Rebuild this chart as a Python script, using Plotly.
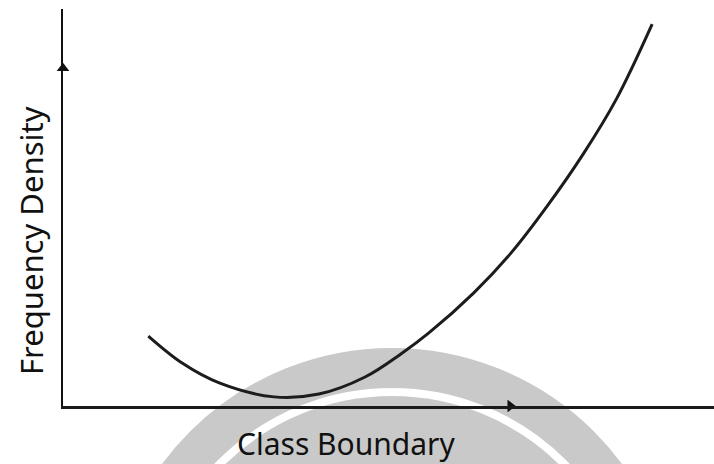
import plotly.graph_objects as go

# Curve data (arbitrary units)
class_boundary = [1.31, 1.83, 2.40, 3.24, 3.93, 4.64, 5.19, 5.62, 6.31, 6.88, 7.44, 8.00, 8.50, 9.05]
frequency_density = [1.76, 1.08, 0.58, 0.23, 0.30, 0.73, 1.31, 1.84, 2.85, 3.85, 5.04, 6.37, 7.73, 9.62]

x_title = "Class Boundary"
y_title = "Frequency Density"

# Axis arrow-head positions (data units)
x_arrow = [6.87]
y_arrow = [8.51]

W, H = 714, 464
L, B, T, R = 63, 58, 9, 0

def px_x(px):
    return (px - L) / (W - L - R)

def px_y(py):
    return (H - B - py) / (H - B - T)

fig = go.Figure()

fig.add_trace(go.Scatter(
    x=class_boundary, y=frequency_density, mode="lines",
    line=dict(color="#1c1c1c", width=3, shape="spline", smoothing=1.0),
    hoverinfo="skip", showlegend=False, cliponaxis=False,
))
fig.add_trace(go.Scatter(
    x=x_arrow, y=[0], mode="markers",
    marker=dict(symbol="triangle-right", size=11, color="#111"),
    showlegend=False, cliponaxis=False, hoverinfo="skip",
))
fig.add_trace(go.Scatter(
    x=[0], y=y_arrow, mode="markers",
    marker=dict(symbol="triangle-up", size=11, color="#111"),
    showlegend=False, cliponaxis=False, hoverinfo="skip",
))

# watermark rings (decorative background)
cx, cy = 392, 634
r1 = 266
fig.add_shape(type="circle", xref="paper", yref="paper", layer="below",
              x0=px_x(cx - r1), x1=px_x(cx + r1), y0=px_y(cy + r1), y1=px_y(cy - r1),
              line=dict(color="#c9c9c9", width=40))
r2 = 238
fig.add_shape(type="circle", xref="paper", yref="paper", layer="below",
              x0=px_x(cx - r2), x1=px_x(cx + r2), y0=px_y(cy + r2), y1=px_y(cy - r2),
              fillcolor="#c9c9c9", line=dict(width=0))

fig.add_annotation(text=x_title, xref="paper", yref="paper",
                   x=px_x(346), y=px_y(444), xanchor="center", yanchor="middle",
                   showarrow=False,
                   font=dict(family="Noto Sans", size=30, color="#111"))
fig.add_annotation(text=y_title, xref="paper", yref="paper",
                   x=px_x(31), y=px_y(241), xanchor="center", yanchor="middle",
                   showarrow=False, textangle=-90,
                   font=dict(family="Noto Sans", size=31, color="#111"))

fig.update_xaxes(range=[0, 10], showgrid=False, zeroline=False, showticklabels=False,
                 ticks="", showline=True, linecolor="#1a1a1a", linewidth=3)
fig.update_yaxes(range=[0, 10], showgrid=False, zeroline=False, showticklabels=False,
                 ticks="", showline=True, linecolor="#111", linewidth=2)

fig.update_layout(
    width=W, height=H,
    margin=dict(l=L, r=R, t=T, b=B),
    paper_bgcolor="white", plot_bgcolor="rgba(0,0,0,0)",
)

fig.write_html("out.html", config={"displayModeBar": False},
               post_script="document.body.style.margin='0';")
